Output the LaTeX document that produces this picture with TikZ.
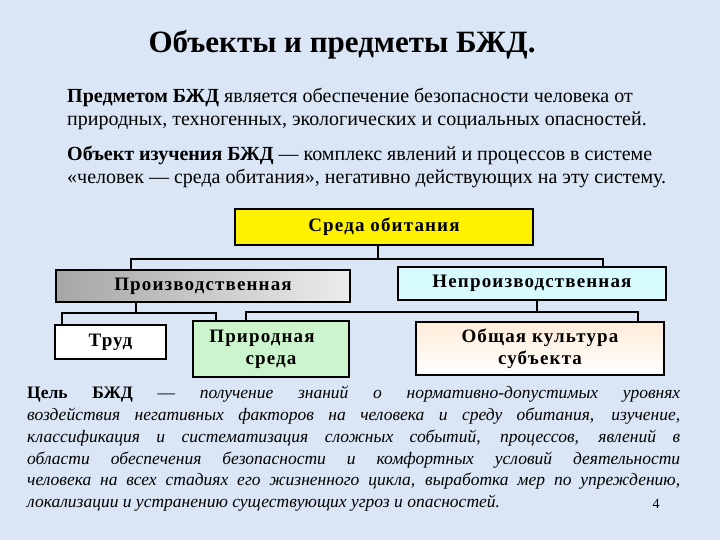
\documentclass[tikz,border=0pt]{standalone}
\usepackage{fontspec}
\setmainfont{Liberation Serif}
\newfontfamily\boxfont[LetterSpace=6]{Liberation Serif}
\definecolor{bg}{RGB}{218,230,245}
\definecolor{nprodc}{RGB}{215,250,255}
\definecolor{natc}{RGB}{205,245,205}
\begin{document}
\begin{tikzpicture}[x=1pt,y=-1pt,
 bx/.style={draw=black,line width=2.6pt,font=\boxfont\bfseries\fontsize{19}{22}\selectfont,align=center,inner sep=0pt},
 ln/.style={draw=black,line width=1.2pt}]
\fill[bg] (0,0) rectangle (720,540);
\useasboundingbox (0,0) rectangle (720,540);
\node[font=\bfseries\fontsize{31}{34}\selectfont] (title) at (342,45) {Объекты и предметы БЖД.};
\node[anchor=north west,align=left,font=\fontsize{20}{23}\selectfont,inner sep=0pt] (p1) at (67,88)
 {\textbf{Предметом БЖД} является обеспечение безопасности человека от\\ природных, техногенных, экологических и социальных опасностей.};
\node[anchor=north west,align=left,font=\fontsize{20}{23}\selectfont,inner sep=0pt] (p2) at (67,146)
 {\textbf{Объект изучения БЖД} — комплекс явлений и процессов в системе\\ «человек — среда обитания», негативно действующих на эту систему.};
\node[bx,fill=yellow,minimum width=298,minimum height=36] (env) at (384,227) {Среда обитания};
\node[bx,left color=gray!70,right color=gray!15,minimum width=294,minimum height=32] (prod) at (203,286) {Производственная};
\node[bx,fill=nprodc,minimum width=268,minimum height=33] (nprod) at (532,283.5) {Непроизводственная};
\node[bx,fill=white,minimum width=111,minimum height=34] (trud) at (110.5,342) {Труд};
\node[bx,fill=natc,minimum width=156,minimum height=56] (nat) at (271,349) {\hspace*{-18pt}Природная\\ среда};
\node[bx,top color=orange!15,bottom color=white,minimum width=248,minimum height=53] (cult) at (540,348.5) {Общая культура\\ субъекта};
\draw[ln] (378,245) |- (131,259) -- (131,270);
\draw[ln] (378,259) -- (603,259) -- (603,267);
\draw[ln] (136,302) -- (136,313);
\draw[ln] (62,325) |- (216,313) -- (216,321);
\draw[ln] (537,300) -- (537,312);
\draw[ln] (246,321) |- (638,312) -- (638,322);
\node[anchor=north west,align=left,inner sep=0pt,font=\fontsize{17.5}{21.8}\selectfont] (goal) at (27,386)
 {\makebox[653pt][s]{\textbf{Цель БЖД} — \textit{получение знаний о нормативно-допустимых уровнях}}\\
 \makebox[653pt][s]{\itshape воздействия негативных факторов на человека и среду обитания, изучение,}\\
 \makebox[653pt][s]{\itshape классификация и систематизация сложных событий, процессов, явлений в}\\
 \makebox[653pt][s]{\itshape области обеспечения безопасности и комфортных условий деятельности}\\
 \makebox[653pt][s]{\itshape человека на всех стадиях его жизненного цикла, выработка мер по упреждению,}\\
 {\itshape локализации и устранению существующих угроз и опасностей.}};
\node[font=\fontsize{14}{15}\selectfont] (pg) at (656,504) {4};
\end{tikzpicture}
\end{document}
